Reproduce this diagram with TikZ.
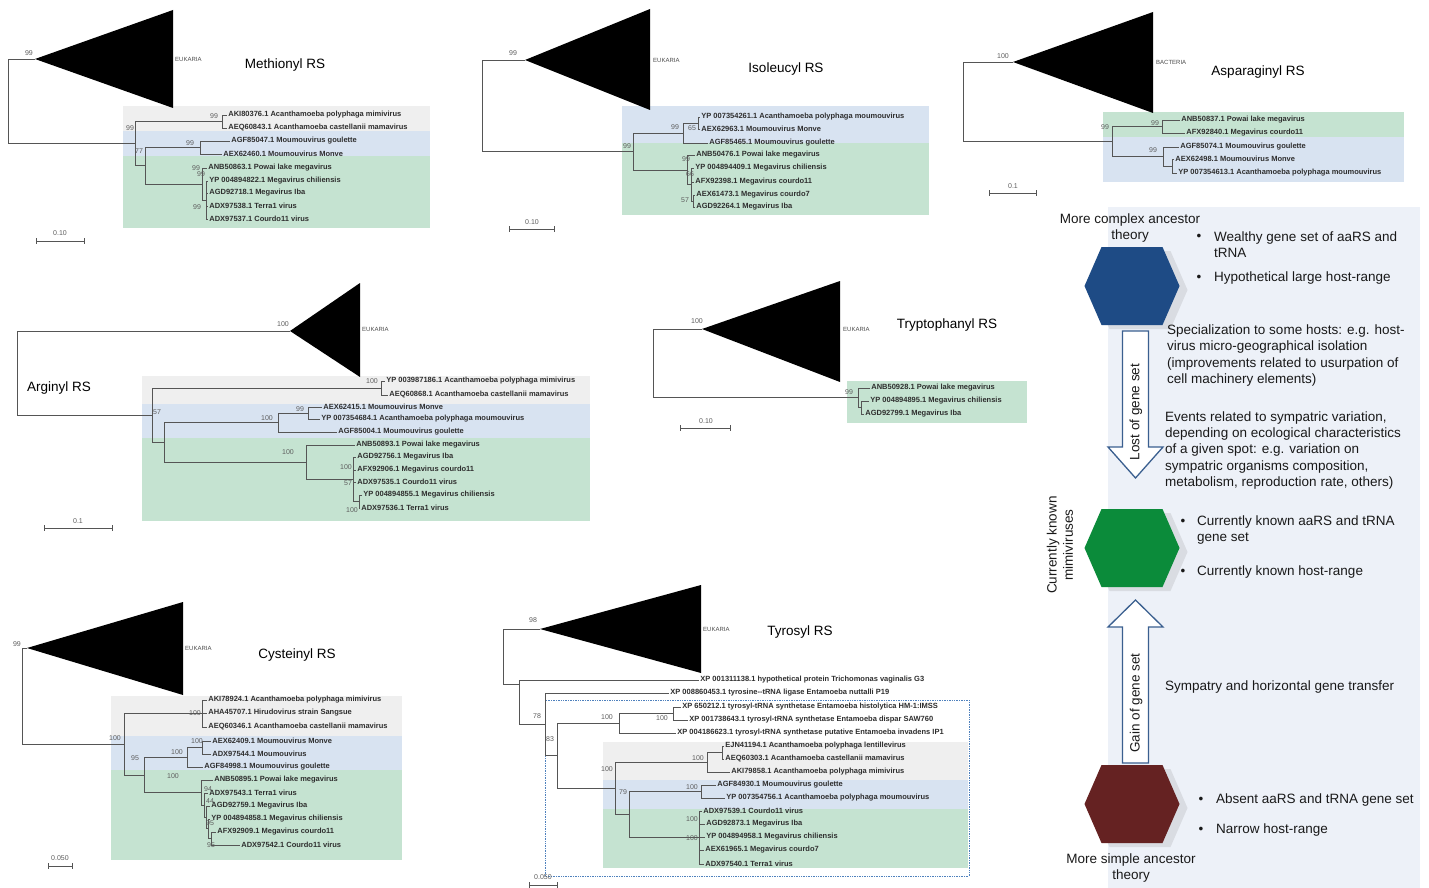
\documentclass[tikz,border=0pt]{standalone}
\usepackage{fontspec}
\setmainfont{Liberation Sans}
\definecolor{boxgray}{HTML}{EFEFEF}
\definecolor{boxblue}{HTML}{D8E3F1}
\definecolor{boxgreen}{HTML}{C5E3D1}
\definecolor{panelbg}{HTML}{EDF1F8}
\definecolor{hexblue}{HTML}{1E4B85}
\definecolor{hexgreen}{HTML}{0B8B3A}
\definecolor{hexred}{HTML}{652222}
\definecolor{arrowc}{HTML}{3A5F8F}
\definecolor{leafc}{HTML}{2E2E2E}
\definecolor{bsc}{HTML}{5E5E5E}
\definecolor{linec}{HTML}{555555}
\definecolor{dotc}{HTML}{4F81BD}
\newcommand\TLeaf[5]{\node[leaf] (#1) at (#2,#3) {#5}; \draw[br] (#4) |- (#1.west);}
\newcommand\TIn[4]{\coordinate (#1) at (#2,#3); \draw[br] (#4) |- (#1);}
\newcommand\TBs[4]{\node[bs] (#1) at (#2,#3) {#4};}
\begin{document}
\begin{tikzpicture}[x=1pt,y=-1pt,
  leaf/.style={anchor=west, inner xsep=1.2pt, inner ysep=0pt, font=\fontsize{7.5}{9}\selectfont\bfseries, text=leafc},
  bs/.style={inner sep=0pt, font=\fontsize{7}{8}\selectfont, text=bsc},
  br/.style={draw=linec, line width=0.6pt},
  tri/.style={fill=black},
  clade/.style={anchor=west, inner sep=0pt, font=\fontsize{6}{7}\selectfont, text=black!70},
  title/.style={inner sep=0pt, font=\fontsize{13.5}{16}\selectfont},
  sbar/.style={draw=linec, line width=0.6pt, |-|},
  slab/.style={inner sep=0pt, font=\fontsize{7}{8}\selectfont, text=bsc},
  ptext/.style={inner sep=0pt, font=\fontsize{13.5}{16.3}\selectfont, text=black!90, align=left},
  bul/.style={inner sep=0pt, font=\fontsize{13.5}{16.3}\selectfont, text=black!90},
  hshadow/.style={fill=gray, opacity=0.18},
  barrow/.style={draw=arrowc, fill=white, line width=1.3pt, line join=miter}
]
\useasboundingbox (0,0) rectangle (1429,888);
\fill[white] (0,0) rectangle (1429,888);

% ================= background boxes =================
% Methionyl
\fill[boxgray] (123,106) rectangle (430,131);
\fill[boxblue] (123,131) rectangle (430,156);
\fill[boxgreen] (123,156) rectangle (430,228);
% Isoleucyl
\fill[boxblue] (622,106) rectangle (929,143);
\fill[boxgreen] (622,143) rectangle (929,215);
% Asparaginyl
\fill[boxgreen] (1103,112) rectangle (1404,137);
\fill[boxblue] (1103,137) rectangle (1404,182);
% Arginyl
\fill[boxgray] (142,376) rectangle (590,404);
\fill[boxblue] (142,404) rectangle (590,438);
\fill[boxgreen] (142,438) rectangle (590,521);
% Tryptophanyl
\fill[boxgreen] (847,381) rectangle (1027,423);
% Cysteinyl
\fill[boxgray] (111,696) rectangle (402,736);
\fill[boxblue] (111,736) rectangle (402,770);
\fill[boxgreen] (111,770) rectangle (402,860);
% Tyrosyl
\fill[boxgray] (603,742) rectangle (968,780);
\fill[boxblue] (603,780) rectangle (968,809);
\fill[boxgreen] (603,809) rectangle (968,868);
\draw[dotc, densely dotted, line width=0.7pt] (545,700) rectangle (969,876);

% ================= Methionyl RS =================
\coordinate (mT) at (35,59);
\fill[tri] (mT) -- (173,10) -- (173,108) -- cycle;
\node[clade] (mEuk) at (175,59) {EUKARIA};
\node[title] (mTitle) at (285,65) {Methionyl RS};
\coordinate (mR) at (8,101);
\draw[br] (mR) |- (mT);
\TIn{mA}{135}{143.75}{mR}
\TIn{mB}{222}{121.5}{mA}
\TLeaf{m1}{227}{115}{mB}{AKI80376.1 Acanthamoeba polyphaga mimivirus}
\TLeaf{m2}{227}{128}{mB}{AEQ60843.1 Acanthamoeba castellanii mamavirus}
\TIn{mC}{145}{165.75}{mA}
\TIn{mD}{200}{147.5}{mC}
\TLeaf{m3}{230}{141}{mD}{AGF85047.1 Moumouvirus goulette}
\TLeaf{m4}{222}{154}{mD}{AEX62460.1 Moumouvirus Monve}
\TIn{mE}{202}{184}{mC}
\TLeaf{m5}{207}{168}{mE}{ANB50863.1 Powai lake megavirus}
\TIn{mF}{206}{200}{mE}
\TLeaf{m6}{208}{181}{mF}{YP 004894822.1 Megavirus chiliensis}
\TLeaf{m7}{208}{193}{mF}{AGD92718.1 Megavirus Iba}
\TLeaf{m8}{208}{206}{mF}{ADX97538.1 Terra1 virus}
\TLeaf{m9}{208}{219}{mF}{ADX97537.1 Courdo11 virus}
\TBs{mb1}{29}{53}{99}
\TBs{mb2}{130}{128}{99}
\TBs{mb3}{214}{116}{99}
\TBs{mb4}{139}{151}{77}
\TBs{mb5}{190}{143}{99}
\TBs{mb6}{196}{168}{99}
\TBs{mb7}{201}{174.5}{99}
\TBs{mb8}{197}{207}{99}
\coordinate (ms1) at (36,241); \coordinate (ms2) at (85,241);
\draw[sbar] (ms1) -- (ms2);
\node[slab] (msl) at (60,233) {0.10};

% ================= Isoleucyl RS =================
\coordinate (iT) at (525,60);
\fill[tri] (iT) -- (650,9) -- (650,110) -- cycle;
\node[clade] (iEuk) at (653,60) {EUKARIA};
\node[title] (iTitle) at (786,69) {Isoleucyl RS};
\coordinate (iR) at (482,105.75);
\draw[br] (iR) |- (iT);
\TIn{iA}{633}{151.5}{iR}
\TIn{iB}{683}{133}{iA}
\TIn{iB2}{698}{123}{iB}
\TLeaf{i1}{700}{117}{iB2}{YP 007354261.1 Acanthamoeba polyphaga moumouvirus}
\TLeaf{i2}{700}{129}{iB2}{AEX62963.1 Moumouvirus Monve}
\TLeaf{i3}{708}{143}{iB}{AGF85465.1 Moumouvirus goulette}
\TIn{iC}{687}{170}{iA}
\TLeaf{i4}{695}{155}{iC}{ANB50476.1 Powai lake megavirus}
\TIn{iC2}{691}{184.5}{iC}
\TLeaf{i5}{694}{168}{iC2}{YP 004894409.1 Megavirus chiliensis}
\TLeaf{i6}{694}{182}{iC2}{AFX92398.1 Megavirus courdo11}
\TIn{iC3}{693}{201}{iC2}
\TLeaf{i7}{695}{195}{iC3}{AEX61473.1 Megavirus courdo7}
\TLeaf{i8}{695}{207}{iC3}{AGD92264.1 Megavirus Iba}
\TBs{ib1}{513}{53}{99}
\TBs{ib2}{627}{146}{99}
\TBs{ib3}{675}{127}{99}
\TBs{ib4}{692}{128}{65}
\TBs{ib5}{686}{159}{99}
\TBs{ib6}{690}{174}{66}
\TBs{ib7}{685}{200}{57}
\coordinate (is1) at (509,229); \coordinate (is2) at (555,229);
\draw[sbar] (is1) -- (is2);
\node[slab] (isl) at (532,222) {0.10};

% ================= Asparaginyl RS =================
\coordinate (aT) at (1013,62);
\fill[tri] (aT) -- (1153,12) -- (1153,113) -- cycle;
\node[clade] (aBac) at (1156,62) {BACTERIA};
\node[title] (aTitle) at (1258,72) {Asparaginyl RS};
\coordinate (aR) at (963,101.75);
\draw[br] (aR) |- (aT);
\TIn{aA}{1112}{141.5}{aR}
\TIn{aB}{1162}{126.5}{aA}
\TLeaf{a1}{1180}{120}{aB}{ANB50837.1 Powai lake megavirus}
\TLeaf{a2}{1185}{133}{aB}{AFX92840.1 Megavirus courdo11}
\TIn{aC}{1163}{156.5}{aA}
\TLeaf{a3}{1179}{147}{aC}{AGF85074.1 Moumouvirus goulette}
\TIn{aD}{1172}{166}{aC}
\TLeaf{a4}{1174}{159}{aD}{AEX62498.1 Moumouvirus Monve}
\TLeaf{a5}{1177}{173}{aD}{YP 007354613.1 Acanthamoeba polyphaga moumouvirus}
\TBs{ab1}{1003}{56}{100}
\TBs{ab2}{1105}{127}{99}
\TBs{ab3}{1155}{123}{99}
\TBs{ab4}{1153}{150}{99}
\coordinate (as1) at (989,193); \coordinate (as2) at (1037,193);
\draw[sbar] (as1) -- (as2);
\node[slab] (asl) at (1013,186) {0.1};

% ================= Arginyl RS =================
\coordinate (rT) at (290,331);
\fill[tri] (rT) -- (360,283) -- (360,377) -- cycle;
\node[clade] (rEuk) at (362,329) {EUKARIA};
\node[title, anchor=west] (rTitle) at (27,388) {Arginyl RS};
\coordinate (rR) at (17,373);
\draw[br] (rR) |- (rT);
\TIn{rA}{152}{415}{rR}
\TIn{rB}{381}{388}{rA}
\TLeaf{r1}{385}{381}{rB}{YP 003987186.1 Acanthamoeba polyphaga mimivirus}
\TLeaf{r2}{388}{395}{rB}{AEQ60868.1 Acanthamoeba castellanii mamavirus}
\TIn{rC}{164}{442.25}{rA}
\TIn{rD}{278}{422.5}{rC}
\TIn{rE}{308}{413}{rD}
\TLeaf{r3}{322}{407}{rE}{AEX62415.1 Moumouvirus Monve}
\TLeaf{r4}{320}{419}{rE}{YP 007354684.1 Acanthamoeba polyphaga moumouvirus}
\TLeaf{r5}{337}{432}{rD}{AGF85004.1 Moumouvirus goulette}
\TIn{rF}{306}{462}{rC}
\TLeaf{r6}{355}{445}{rF}{ANB50893.1 Powai lake megavirus}
\TIn{rG}{353}{479.25}{rF}
\TLeaf{r7}{356}{457}{rG}{AGD92756.1 Megavirus Iba}
\TLeaf{r8}{356}{470}{rG}{AFX92906.1 Megavirus courdo11}
\TLeaf{r9}{356}{482}{rG}{ADX97535.1 Courdo11 virus}
\TIn{rH}{359}{501.5}{rG}
\TLeaf{r10}{362}{495}{rH}{YP 004894855.1 Megavirus chiliensis}
\TLeaf{r11}{360}{508}{rH}{ADX97536.1 Terra1 virus}
\TBs{rb1}{283}{324}{100}
\TBs{rb2}{372}{381}{100}
\TBs{rb3}{157}{412}{57}
\TBs{rb4}{267}{418}{100}
\TBs{rb5}{300}{409}{99}
\TBs{rb6}{288}{452}{100}
\TBs{rb7}{346}{467}{100}
\TBs{rb8}{348}{483}{57}
\TBs{rb9}{352}{510}{100}
\coordinate (rs1) at (44,528); \coordinate (rs2) at (113,528);
\draw[sbar] (rs1) -- (rs2);
\node[slab] (rsl) at (78,521) {0.1};

% ================= Tryptophanyl RS =================
\coordinate (tT) at (702,329);
\fill[tri] (tT) -- (840,281) -- (840,382) -- cycle;
\node[clade] (tEuk) at (843,329) {EUKARIA};
\node[title] (tTitle) at (947,325) {Tryptophanyl RS};
\coordinate (tR) at (653,363.4);
\draw[br] (tR) |- (tT);
\TIn{tA}{858}{397.75}{tR}
\TLeaf{t1}{870}{388}{tA}{ANB50928.1 Powai lake megavirus}
\TIn{tB}{861}{407.5}{tA}
\TLeaf{t2}{869}{401}{tB}{YP 004894895.1 Megavirus chiliensis}
\TLeaf{t3}{864}{414}{tB}{AGD92799.1 Megavirus Iba}
\TBs{tb1}{697}{321}{100}
\TBs{tb2}{849}{392}{99}
\coordinate (ts1) at (680,428); \coordinate (ts2) at (731,428);
\draw[sbar] (ts1) -- (ts2);
\node[slab] (tsl) at (706,421) {0.10};

% ================= Cysteinyl RS =================
\coordinate (cT) at (27,648);
\fill[tri] (cT) -- (183,602) -- (183,695) -- cycle;
\node[clade] (cEuk) at (185,648) {EUKARIA};
\node[title] (cTitle) at (297,655) {Cysteinyl RS};
\coordinate (cR) at (22,696);
\draw[br] (cR) |- (cT);
\TIn{cA}{124}{744.15}{cR}
\TIn{cB}{202}{713.5}{cA}
\TLeaf{c1}{207}{700}{cB}{AKI78924.1 Acanthamoeba polyphaga mimivirus}
\TLeaf{c2}{207}{713}{cB}{AHA45707.1 Hirudovirus strain Sangsue}
\TLeaf{c3}{207}{727}{cB}{AEQ60346.1 Acanthamoeba castellanii mamavirus}
\TIn{cC}{144}{774.8}{cA}
\TIn{cD}{187}{757}{cC}
\TIn{cE}{202}{747.5}{cD}
\TLeaf{c4}{211}{741}{cE}{AEX62409.1 Moumouvirus Monve}
\TLeaf{c5}{211}{754}{cE}{ADX97544.1 Moumouvirus}
\TLeaf{c6}{203}{767}{cD}{AGF84998.1 Moumouvirus goulette}
\TIn{cF}{201}{792.6}{cC}
\TLeaf{c7}{213}{780}{cF}{ANB50895.1 Powai lake megavirus}
\TIn{cG}{204}{805.2}{cF}
\TLeaf{c8}{208}{793}{cG}{ADX97543.1 Terra1 virus}
\TIn{cH}{206}{817.4}{cG}
\TLeaf{c9}{210}{806}{cH}{AGD92759.1 Megavirus Iba}
\TIn{cI}{208}{828.75}{cH}
\TLeaf{c10}{210}{819}{cI}{YP 004894858.1 Megavirus chiliensis}
\TIn{cJ}{211}{838.5}{cI}
\TLeaf{c11}{216}{832}{cJ}{AFX92909.1 Megavirus courdo11}
\TLeaf{c12}{240}{845}{cJ}{ADX97542.1 Courdo11 virus}
\TBs{cb1}{17}{644}{99}
\TBs{cb2}{115}{738}{100}
\TBs{cb3}{195}{713}{100}
\TBs{cb4}{135}{758}{95}
\TBs{cb5}{177}{752}{100}
\TBs{cb6}{197}{741}{100}
\TBs{cb7}{173}{776}{100}
\TBs{cb8}{208}{789}{94}
\TBs{cb9}{210}{801}{44}
\TBs{cb10}{210}{823}{95}
\TBs{cb11}{211}{845}{95}
\coordinate (cs1) at (48,866); \coordinate (cs2) at (73,866);
\draw[sbar] (cs1) -- (cs2);
\node[slab] (csl) at (60,858) {0.050};

% ================= Tyrosyl RS =================
\coordinate (yT) at (540,629);
\fill[tri] (yT) -- (701,585) -- (701,673) -- cycle;
\node[clade] (yEuk) at (703,629) {EUKARIA};
\node[title] (yTitle) at (800,632) {Tyrosyl RS};
\coordinate (yR) at (503,656.5);
\draw[br] (yR) |- (yT);
\TIn{yA}{519}{684}{yR}
\TLeaf{y1}{699}{680}{yA}{XP 001311138.1 hypothetical protein Trichomonas vaginalis G3}
\TIn{yB}{545}{724}{yA}
\TLeaf{y2}{669}{693}{yB}{XP 008860453.1 tyrosine-{}-tRNA ligase Entamoeba nuttalli P19}
\TIn{yC}{557}{755.6}{yB}
\TIn{yD}{619}{723}{yC}
\TIn{yE}{673}{713.5}{yD}
\TLeaf{y3}{681}{707}{yE}{XP 650212.1 tyrosyl-tRNA synthetase Entamoeba histolytica HM-1:IMSS}
\TLeaf{y4}{688}{720}{yE}{XP 001738643.1 tyrosyl-tRNA synthetase Entamoeba dispar SAW760}
\TLeaf{y5}{676}{733}{yD}{XP 004186623.1 tyrosyl-tRNA synthetase putative Entamoeba invadens IP1}
\TIn{yF}{615}{788.25}{yC}
\TIn{yG}{707}{762}{yF}
\TIn{yH}{722}{752.5}{yG}
\TLeaf{y6}{724}{746}{yH}{EJN41194.1 Acanthamoeba polyphaga lentillevirus}
\TLeaf{y7}{724}{759}{yH}{AEQ60303.1 Acanthamoeba castellanii mamavirus}
\TLeaf{y8}{730}{772}{yG}{AKI79858.1 Acanthamoeba polyphaga mimivirus}
\TIn{yI}{629}{814.5}{yF}
\TIn{yJ}{701}{791.5}{yI}
\TLeaf{y9}{716}{785}{yJ}{AGF84930.1 Moumouvirus goulette}
\TLeaf{y10}{725}{798}{yJ}{YP 007354756.1 Acanthamoeba polyphaga moumouvirus}
\TIn{yK}{699}{837.5}{yI}
\TLeaf{y11}{702}{811}{yK}{ADX97539.1 Courdo11 virus}
\TLeaf{y12}{705}{824}{yK}{AGD92873.1 Megavirus Iba}
\TLeaf{y13}{705}{837}{yK}{YP 004894958.1 Megavirus chiliensis}
\TLeaf{y14}{704}{850}{yK}{AEX61965.1 Megavirus courdo7}
\TLeaf{y15}{704}{864}{yK}{ADX97540.1 Terra1 virus}
\TBs{yb1}{533}{620}{98}
\TBs{yb2}{537}{716}{78}
\TBs{yb3}{550}{739}{83}
\TBs{yb4}{607}{717}{100}
\TBs{yb5}{662}{718}{100}
\TBs{yb6}{607}{769}{100}
\TBs{yb7}{698}{758}{100}
\TBs{yb8}{623}{792}{79}
\TBs{yb9}{692}{787}{100}
\TBs{yb10}{692}{819}{100}
\TBs{yb11}{692}{838}{100}
\coordinate (ys1) at (529,885); \coordinate (ys2) at (558,885);
\draw[sbar] (ys1) -- (ys2);
\node[slab] (ysl) at (543,877) {0.050};

% ================= Right panel =================
\fill[panelbg] (1108,207) rectangle (1420,888);

% shadows
\fill[hshadow, shift={(1140,290)}] (-47.5,0) -- (-30.5,-39) -- (30.5,-39) -- (47.5,0) -- (30.5,39) -- (-30.5,39) -- cycle;
\fill[hshadow, shift={(1140,552)}] (-47.5,0) -- (-30.5,-39) -- (30.5,-39) -- (47.5,0) -- (30.5,39) -- (-30.5,39) -- cycle;
\fill[hshadow, shift={(1140,808)}] (-47.5,0) -- (-30.5,-39) -- (30.5,-39) -- (47.5,0) -- (30.5,39) -- (-30.5,39) -- cycle;
% hexagons
\coordinate (hexB) at (1132,286);
\coordinate (hexG) at (1132,548);
\coordinate (hexR) at (1132,804);
\fill[hexblue, shift={(hexB)}] (-47.5,0) -- (-30.5,-39) -- (30.5,-39) -- (47.5,0) -- (30.5,39) -- (-30.5,39) -- cycle;
\fill[hexgreen, shift={(hexG)}] (-47.5,0) -- (-30.5,-39) -- (30.5,-39) -- (47.5,0) -- (30.5,39) -- (-30.5,39) -- cycle;
\fill[hexred, shift={(hexR)}] (-47.5,0) -- (-30.5,-39) -- (30.5,-39) -- (47.5,0) -- (30.5,39) -- (-30.5,39) -- cycle;

% block arrows
\draw[barrow] (1122.5,331) -- (1148.5,331) -- (1148.5,447) -- (1163,447) -- (1135.5,478) -- (1108,447) -- (1122.5,447) -- cycle;
\draw[barrow] (1122.5,763) -- (1148.5,763) -- (1148.5,627) -- (1163,627) -- (1135.5,600) -- (1108,627) -- (1122.5,627) -- cycle;
\node[bul, rotate=90] (lost) at (1136,412) {Lost of gene set};
\node[bul, rotate=90] (gain) at (1136,703) {Gain of gene set};

% texts
\node[ptext, align=center] (cxa) at (1130,228) {More complex ancestor\\theory};
\node[bul] (bu1) at (1199,237) {•};
\node[ptext, anchor=west] (t1) at (1214,244.5) {Wealthy gene set of aaRS and\\tRNA};
\node[bul] (bu2) at (1199,278) {•};
\node[ptext, anchor=west] (t2) at (1214,278) {Hypothetical large host-range};
\node[ptext, anchor=west] (spec) at (1167,355.5) {Specialization to some hosts: e.g. host-\\virus micro-geographical isolation\\(improvements related to usurpation of\\cell machinery elements)};
\node[ptext, anchor=west] (events) at (1165,450.5) {Events related to sympatric variation,\\depending on ecological characteristics\\of a given spot: e.g. variation on\\sympatric organisms composition,\\metabolism, reproduction rate, others)};
\node[ptext, align=center, rotate=90] (curr) at (1060,545) {Currently known\\mimiviruses};
\node[bul] (bu3) at (1183,522) {•};
\node[ptext, anchor=west] (t3) at (1197,530) {Currently known aaRS and tRNA\\gene set};
\node[bul] (bu4) at (1183,572) {•};
\node[ptext, anchor=west] (t4) at (1197,572) {Currently known host-range};
\node[ptext, anchor=west] (symp) at (1165,687) {Sympatry and horizontal gene transfer};
\node[bul] (bu5) at (1201,800) {•};
\node[ptext, anchor=west] (t5) at (1216,800) {Absent aaRS and tRNA gene set};
\node[bul] (bu6) at (1201,830) {•};
\node[ptext, anchor=west] (t6) at (1216,830) {Narrow host-range};
\node[ptext, align=center] (simp) at (1131,868) {More simple ancestor\\theory};
\end{tikzpicture}
\end{document}
